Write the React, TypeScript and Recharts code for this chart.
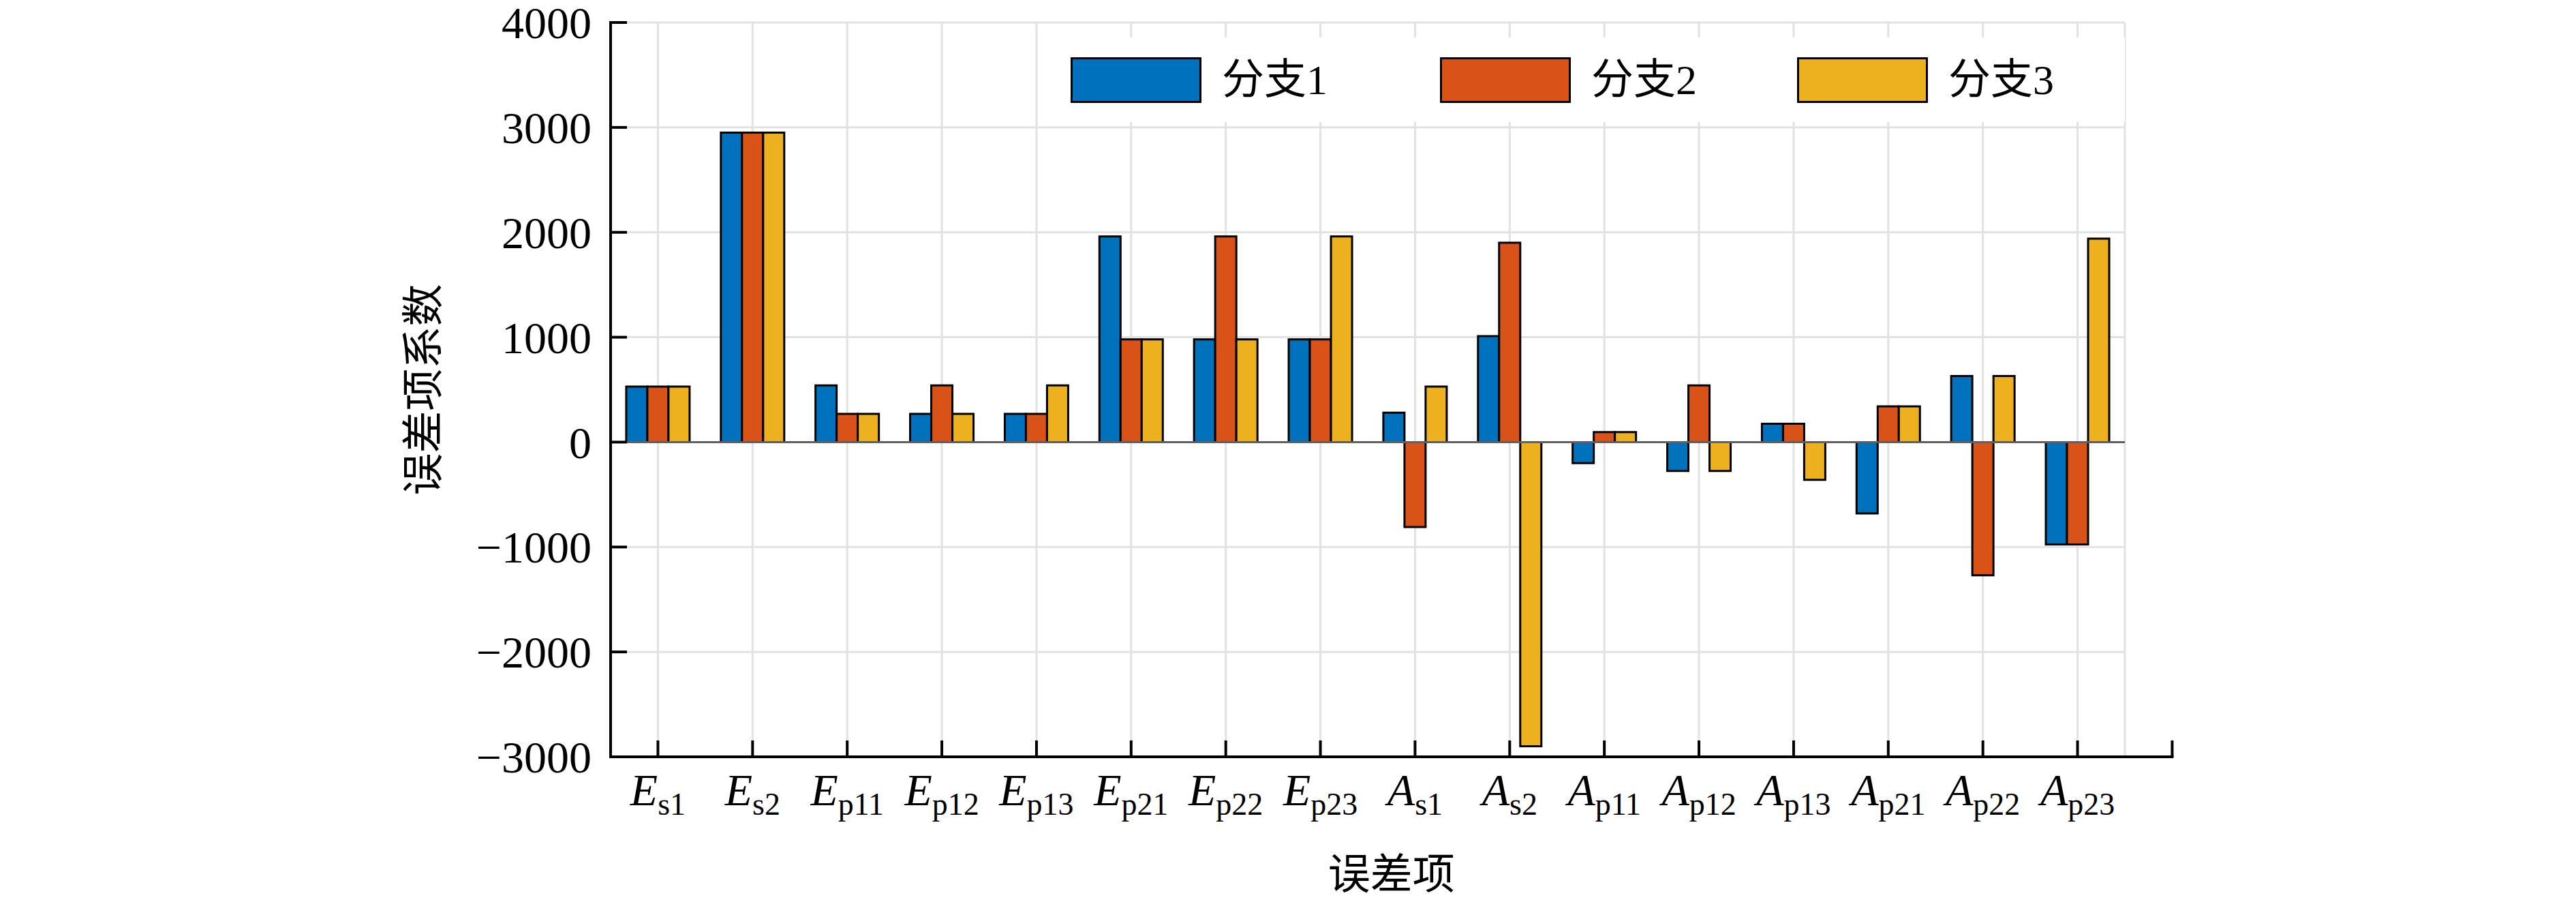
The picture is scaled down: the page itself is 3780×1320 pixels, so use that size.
import React from "react";
import { BarChart, Bar, XAxis, YAxis, CartesianGrid, ReferenceLine } from "recharts";

// error terms, "letter_subscript"
const categories = [
  "E_s1", "E_s2", "E_p11", "E_p12", "E_p13", "E_p21", "E_p22", "E_p23",
  "A_s1", "A_s2", "A_p11", "A_p12", "A_p13", "A_p21", "A_p22", "A_p23",
];

const branch1 = [530, 2950, 540, 270, 270, 1960, 980, 980, 280, 1010, -200, -275, 175, -680, 630, -975];
const branch2 = [530, 2950, 270, 540, 270, 980, 1960, 980, -810, 1900, 95, 540, 175, 340, -1270, -975];
const branch3 = [530, 2950, 270, 270, 540, 980, 980, 1960, 530, -2900, 95, -275, -360, 340, 630, 1940];

const seriesNames = ["分支1", "分支2", "分支3"];
const seriesKeys = ["b1", "b2", "b3"];
const seriesColors = ["#0072BD", "#D95319", "#EDB120"];

const yTicks = [-3000, -2000, -1000, 0, 1000, 2000, 3000, 4000];

const data = categories.map((term, i) => ({
  term,
  b1: branch1[i],
  b2: branch2[i],
  b3: branch3[i],
}));

const NUM_FONT = "'Liberation Serif', 'Times New Roman', serif";
const CJK_FONT = "'Liberation Serif', 'Noto Sans CJK SC', serif";

function formatTick(v: number): string {
  return v < 0 ? `\u2212${Math.abs(v)}` : `${v}`;
}

function YTick(props: any) {
  const { x, y, payload } = props;
  return (
    <g>
      <line x1={x} x2={x + 24} y1={y} y2={y} stroke="#000" strokeWidth={4} />
      <text
        x={x - 28}
        y={y}
        dy="0.35em"
        textAnchor="end"
        fontFamily={NUM_FONT}
        fontSize={66}
        fill="#000"
      >
        {formatTick(payload.value)}
      </text>
    </g>
  );
}

function XTick(props: any) {
  const { x, y, payload, index, visibleTicksCount, width } = props;
  const [main, sub] = String(payload.value).split("_");
  const count = visibleTicksCount || categories.length;
  const band = (Number(width) || 2222) / count;
  const isLast = index === count - 1;
  return (
    <g>
      <line x1={x} x2={x} y1={y} y2={y - 24} stroke="#000" strokeWidth={4} />
      {isLast && (
        <>
          <line x1={x} x2={x + band} y1={y} y2={y} stroke="#000" strokeWidth={4} strokeLinecap="square" />
          <line x1={x + band} x2={x + band} y1={y} y2={y - 24} stroke="#000" strokeWidth={4} />
        </>
      )}
      <text x={x} y={y + 71} textAnchor="middle" fontFamily={NUM_FONT} fontSize={66} fill="#000">
        <tspan fontStyle="italic">{main}</tspan>
        <tspan fontSize={46} dy={14}>
          {sub}
        </tspan>
      </text>
    </g>
  );
}

function XTitle(props: any) {
  const { viewBox } = props;
  const band = viewBox.width / categories.length;
  return (
    <text
      x={viewBox.x + viewBox.width / 2 + band / 4}
      y={viewBox.y + 173}
      dominantBaseline="central"
      textAnchor="middle"
      fontFamily={CJK_FONT}
      fontSize={62}
      fill="#000"
    >
      误差项
    </text>
  );
}

function YTitle(props: any) {
  const { viewBox } = props;
  const cx = viewBox.x + 46;
  const cy = viewBox.y + viewBox.height / 2;
  return (
    <text
      x={cx}
      y={cy}
      transform={`rotate(-90 ${cx} ${cy})`}
      dominantBaseline="central"
      textAnchor="middle"
      fontFamily={CJK_FONT}
      fontSize={62}
      fill="#000"
    >
      误差项系数
    </text>
  );
}

export default function App() {
  return (
    <div style={{ position: "absolute", left: 0, top: 0, width: 3780, height: 1320, background: "#fff" }}>
      <BarChart
        width={3780}
        height={1320}
        data={data}
        margin={{ top: 33, right: 662, bottom: 90, left: 576 }}
        barCategoryGap="16.5%"
        barGap={0}
      >
        <CartesianGrid stroke="#e2e2e2" strokeWidth={3} />
        <XAxis
          dataKey="term"
          interval={0}
          height={120}
          tickSize={0}
          tickMargin={0}
          tick={<XTick />}
          axisLine={{ stroke: "#000", strokeWidth: 4, strokeLinecap: "square" }}
          tickLine={false}
          label={{ content: <XTitle /> }}
        />
        <YAxis
          type="number"
          domain={[-3000, 4000]}
          ticks={yTicks}
          interval={0}
          width={320}
          tickSize={0}
          tickMargin={0}
          tick={<YTick />}
          axisLine={{ stroke: "#000", strokeWidth: 4, strokeLinecap: "square" }}
          tickLine={false}
          allowDataOverflow
          label={{ content: <YTitle /> }}
        />
        {seriesKeys.map((k, i) => (
          <Bar
            key={k}
            dataKey={k}
            name={seriesNames[i]}
            fill={seriesColors[i]}
            stroke="#000"
            strokeWidth={3}
            isAnimationActive={false}
          />
        ))}
        <ReferenceLine y={0} stroke="#606060" strokeWidth={3} />
      </BarChart>

      <div
        style={{
          position: "absolute",
          left: 1545,
          top: 55,
          width: 1573,
          height: 124,
          background: "#fff",
          display: "flex",
          alignItems: "center",
          boxSizing: "border-box",
          paddingLeft: 26,
        }}
      >
        {seriesNames.map((n, i) => (
          <div key={n} style={{ display: "flex", alignItems: "center", width: i === 0 ? 542 : i === 1 ? 524 : undefined }}>
            <div
              style={{
                width: 192,
                height: 67,
                background: seriesColors[i],
                border: "3px solid #000",
                boxSizing: "border-box",
              }}
            />
            <span style={{ marginLeft: 30, fontSize: 62, fontFamily: CJK_FONT, lineHeight: 1, color: "#000" }}>{n}</span>
          </div>
        ))}
      </div>
    </div>
  );
}
